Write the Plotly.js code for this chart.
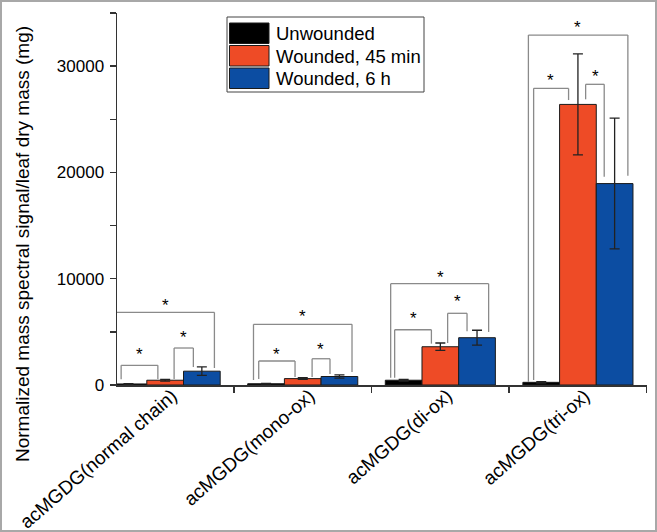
<!DOCTYPE html>
<html><head><meta charset="utf-8">
<script src="https://cdn.plot.ly/plotly-3.0.1.min.js"></script>
<style>html,body{margin:0;padding:0;background:#fff;}#chart{width:657px;height:532px;}</style>
</head><body><div id="chart"></div>
<script>
// ---- data ----
const categories = ['acMGDG(normal chain)', 'acMGDG(mono-ox)', 'acMGDG(di-ox)', 'acMGDG(tri-ox)'];
const seriesNames = ['Unwounded', 'Wounded, 45 min', 'Wounded, 6 h'];
const unwounded    = [100, 120, 450, 250];
const unwoundedErr = [30, 30, 80, 60];
const wounded45    = [450, 600, 3600, 26400];
const wounded45Err = [80, 80, 350, 4750];
const wounded6h    = [1300, 800, 4450, 18950];
const wounded6hErr = [400, 150, 700, 6150];
const yTickVals   = [0, 10000, 20000, 30000];
const yTickLabels = ['0', '10000', '20000', '30000'];
// significance brackets: [group, left offset, right offset, top, left leg end, right leg end, star offset, star y]
const brackets = [
  [0, -0.320, -0.053, 1850, 550, 560, -0.19, 3230],
  [0, 0.065, 0.205, 3480, 560, 1690, 0.136, 4890],
  [0, -0.356, 0.358, 6840, 470, 1600, 0.0, 7810],
  [1, -0.320, -0.056, 2260, 560, 750, -0.19, 3290],
  [1, 0.068, 0.198, 2470, 750, 1030, 0.13, 3700],
  [1, -0.358, 0.358, 5710, 470, 1220, 0.0, 6800],
  [2, -0.332, -0.065, 5200, 690, 3890, -0.198, 6650],
  [2, 0.053, 0.194, 6745, 3950, 5050, 0.125, 8210],
  [2, -0.361, 0.351, 9530, 690, 4990, 0.0, 10510],
  [3, -0.322, -0.068, 27910, 470, 26810, -0.203, 29000],
  [3, 0.056, 0.191, 28290, 26880, 19600, 0.125, 29380],
  [3, -0.360, 0.363, 32920, 310, 19690, 0.0, 34030]
];
const colors = ['#000000', '#EE4B26', '#0C4DA2'];

// ---- geometry helpers ----
const W = 657, H = 532, ML = 117, MR = 10, MT = 13, MB = 147;
const PW = W - ML - MR, PH = H - MT - MB;
const px = x => (x - ML) / PW;
const py = y => (H - MB - y) / PH;
const FONT = 'Liberation Sans, Arial, sans-serif';

const values = [unwounded, wounded45, wounded6h];
const errs = [unwoundedErr, wounded45Err, wounded6hErr];
const traces = seriesNames.map((n, i) => ({
  type: 'bar', name: n, x: categories, y: values[i],
  marker: {color: colors[i], line: {color: '#1a1a1a', width: 1}},
  error_y: {type: 'data', array: errs[i], visible: true, color: '#222', thickness: 1.3, width: 5},
  showlegend: false
}));

const shapes = [];
const annotations = [];
const lineStyle = {color: '#8a8a8a', width: 1.3};
brackets.forEach(b => {
  const [g, l, r, top, yl, yr, sx, sy] = b;
  shapes.push({type: 'line', xref: 'x', yref: 'y', x0: g + l, x1: g + l, y0: yl, y1: top, line: lineStyle});
  shapes.push({type: 'line', xref: 'x', yref: 'y', x0: g + l, x1: g + r, y0: top, y1: top, line: lineStyle});
  shapes.push({type: 'line', xref: 'x', yref: 'y', x0: g + r, x1: g + r, y0: top, y1: yr, line: lineStyle});
  annotations.push({x: g + sx, y: sy, xref: 'x', yref: 'y', text: '*', showarrow: false,
    font: {family: FONT, size: 17, color: '#000'}, yanchor: 'middle', yshift: -4});
});

// custom legend (large swatches as in the reference)
shapes.push({type: 'rect', xref: 'paper', yref: 'paper', x0: px(227), x1: px(424), y0: py(92), y1: py(17),
  line: {color: '#444', width: 1}, fillcolor: 'rgba(0,0,0,0)'});
const rowTops = [23, 45.5, 68];
seriesNames.forEach((n, i) => {
  shapes.push({type: 'rect', xref: 'paper', yref: 'paper', x0: px(229.5), x1: px(269),
    y0: py(rowTops[i] + 20.5), y1: py(rowTops[i]), fillcolor: colors[i], line: {color: '#1a1a1a', width: 1}});
  annotations.push({xref: 'paper', yref: 'paper', x: px(274), y: py(rowTops[i] + 10.5), xanchor: 'left', yanchor: 'middle',
    text: n, showarrow: false, font: {family: FONT, size: 18.5, color: '#000'}});
});

// y title as annotation (positioned as in the reference)
annotations.push({xref: 'paper', yref: 'paper', x: px(22), y: py(244), textangle: -90, showarrow: false,
  text: 'Normalized mass spectral signal/leaf dry mass (mg)', font: {family: FONT, size: 19, color: '#000'},
  xanchor: 'center', yanchor: 'middle'});

// outer frame
shapes.push({type: 'rect', xref: 'paper', yref: 'paper', x0: px(1), x1: px(656), y0: py(531), y1: py(1),
  line: {color: '#a8a8a8', width: 2}, fillcolor: 'rgba(0,0,0,0)'});

const layout = {
  width: W, height: H,
  margin: {l: ML, r: MR, t: MT, b: MB, pad: 0},
  paper_bgcolor: '#fff', plot_bgcolor: '#fff',
  barmode: 'group', bargap: 0.2, bargroupgap: 0,
  font: {family: FONT, color: '#000'},
  xaxis: {type: 'category', range: [-0.35, 3.502], tickson: 'boundaries', ticks: 'outside', ticklen: 6,
    tickcolor: '#333', tickwidth: 1.3, showline: true, linecolor: '#333', linewidth: 1.5,
    showgrid: false, zeroline: false, tickangle: -41, ticklabelstandoff: -9, ticklabelshift: 7,
    tickfont: {family: FONT, size: 19, color: '#000'}},
  yaxis: {range: [0, 35000], tickmode: 'array', tickvals: yTickVals, ticktext: yTickLabels, ticks: 'outside', ticklen: 6,
    tickcolor: '#333', tickwidth: 1.3,
    showline: true, linecolor: '#333', linewidth: 1.5, showgrid: false, zeroline: false,
    minor: {dtick: 5000, tick0: 0, ticks: 'outside', ticklen: 6, tickcolor: '#333', tickwidth: 1.3, showgrid: false},
    tickfont: {family: FONT, size: 17, color: '#000'}, ticklabelstandoff: 2},
  shapes: shapes, annotations: annotations
};
Plotly.newPlot('chart', traces, layout, {staticPlot: true, displayModeBar: false});
</script></body></html>
